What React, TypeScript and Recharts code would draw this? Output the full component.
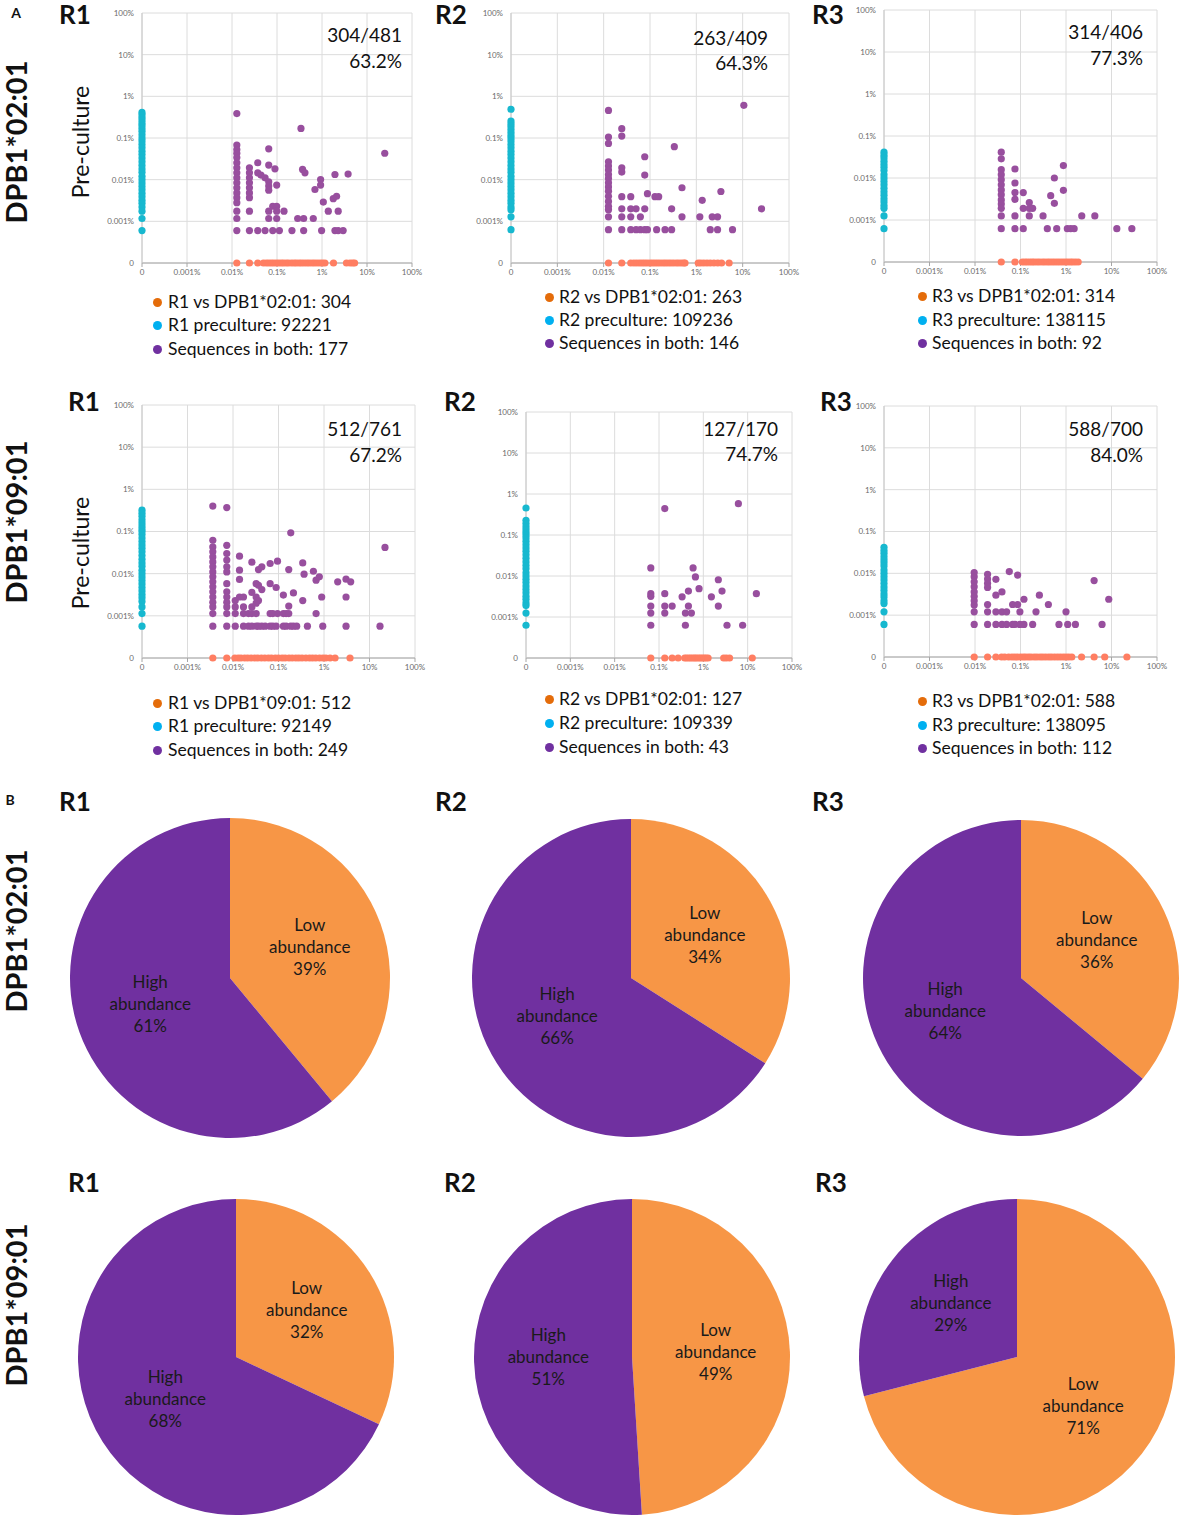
import React from "react";
import { ScatterChart, Scatter, XAxis, YAxis, CartesianGrid, PieChart, Pie, Cell } from "recharts";

const FONT = "Lato, 'Open Sans', sans-serif";

// shared tick labels for both log axes of the scatter plots (0 sits at the origin)
const TICK_LABELS = ["0", "0.001%", "0.01%", "0.1%", "1%", "10%", "100%"];
const TICKS = [0, 1, 2, 3, 4, 5, 6];

// ---- Panel A, DPB1*02:01 (values in %) ----
// cyan = only in pre-culture (x = 0), orange = only after culture (y = 0),
// purple = in both: [culture %, [pre-culture % ...]]
const R1_0201_CYAN = [0.41, 0.36, 0.31, 0.27, 0.23, 0.2, 0.17, 0.145, 0.12, 0.1, 0.085, 0.07, 0.058, 0.048, 0.04, 0.033, 0.027, 0.022, 0.018, 0.015, 0.012, 0.01, 0.0083, 0.0069, 0.0057, 0.0047, 0.0039, 0.0032, 0.0027, 0.0022, 0.00175, 0.00117, 0.0006];
const R1_0201_ORANGE = [0.0128, 0.0244, 0.0373, 0.05, 0.058, 0.066, 0.075, 0.085, 0.097, 0.11, 0.125, 0.14, 0.16, 0.18, 0.21, 0.24, 0.27, 0.31, 0.35, 0.4, 0.46, 0.52, 0.6, 0.68, 0.78, 0.9, 1.02, 1.16, 1.8, 3.5, 4.2, 4.8, 5.3];
const R1_0201_BOTH: [number, number[]][] = [
  [0.0128, [0.385, 0.068, 0.053, 0.043, 0.034, 0.0255, 0.0193, 0.0146, 0.0111, 0.0084, 0.0064, 0.0048, 0.0037, 0.0028, 0.00175, 0.00117, 0.0006]],
  [0.0244, [0.0193, 0.0146, 0.0111, 0.0084, 0.0064, 0.0048, 0.0037, 0.00175, 0.0006]],
  [0.0373, [0.0255, 0.0146, 0.0006]],
  [0.044, [0.0129]],
  [0.0543, [0.0111, 0.0006]],
  [0.0655, [0.055, 0.0224, 0.0089, 0.007, 0.0056, 0.00175, 0.00117]],
  [0.0804, [0.0023, 0.0006]],
  [0.09, [0.0182]],
  [0.0985, [0.0074, 0.0023, 0.00175, 0.00117]],
  [0.113, [0.0006]],
  [0.143, [0.00175]],
  [0.215, [0.0006]],
  [0.288, [0.00117]],
  [0.341, [0.17]],
  [0.37, [0.0176]],
  [0.391, [0.00117, 0.0006]],
  [0.418, [0.0146]],
  [0.64, [0.00117]],
  [0.697, [0.0058]],
  [0.931, [0.0101, 0.0074]],
  [0.98, [0.0006]],
  [1.07, [0.0029]],
  [1.38, [0.00175]],
  [1.78, [0.0035]],
  [1.94, [0.0133, 0.0006]],
  [2.11, [0.004]],
  [2.29, [0.00175, 0.0006]],
  [2.95, [0.0006]],
  [3.8, [0.0136]],
  [24.8, [0.043]],
];

const R2_0201_CYAN = [0.49, 0.256, 0.22, 0.19, 0.16, 0.135, 0.115, 0.1, 0.085, 0.07, 0.058, 0.048, 0.04, 0.033, 0.027, 0.022, 0.018, 0.015, 0.012, 0.01, 0.0083, 0.0069, 0.0057, 0.0047, 0.0039, 0.0032, 0.0027, 0.0022, 0.0019, 0.00128, 0.00063];
const R2_0201_ORANGE = [0.0127, 0.0246, 0.0384, 0.045, 0.052, 0.06, 0.068, 0.077, 0.087, 0.1, 0.113, 0.128, 0.145, 0.165, 0.19, 0.215, 0.245, 0.28, 0.32, 0.37, 0.42, 0.48, 0.54, 0.57, 1.1, 1.25, 1.45, 1.7, 2.0, 2.4, 2.9, 3.5, 5.1];
const R2_0201_BOTH: [number, number[]][] = [
  [0.0127, [0.46, 0.105, 0.074, 0.0269, 0.0212, 0.017, 0.0133, 0.0107, 0.0084, 0.0067, 0.0053, 0.004, 0.003, 0.0023, 0.0019, 0.00128, 0.00063]],
  [0.0246, [0.167, 0.111, 0.0193, 0.0152, 0.0039, 0.002, 0.00128, 0.00063]],
  [0.0384, [0.0039, 0.002, 0.00128, 0.00063]],
  [0.05, [0.002, 0.00063]],
  [0.062, [0.00128, 0.00063]],
  [0.077, [0.0355, 0.0129, 0.002, 0.00063]],
  [0.088, [0.0046, 0.00063]],
  [0.128, [0.0039]],
  [0.139, [0.00063]],
  [0.154, [0.0039]],
  [0.211, [0.00063]],
  [0.293, [0.002, 0.00063]],
  [0.335, [0.062]],
  [0.49, [0.0064, 0.00128]],
  [1.19, [0.00128]],
  [1.34, [0.0032]],
  [2.0, [0.00063]],
  [2.2, [0.00128]],
  [2.87, [0.00128, 0.00063]],
  [3.39, [0.0052]],
  [6.04, [0.00063]],
  [10.6, [0.61]],
  [25.5, [0.002]],
];

const R3_0201_CYAN = [0.0413, 0.035, 0.03, 0.025, 0.021, 0.018, 0.015, 0.012, 0.01, 0.0083, 0.0069, 0.0057, 0.0047, 0.0039, 0.0032, 0.0027, 0.0022, 0.0019, 0.00125, 0.00062];
const R3_0201_ORANGE = [0.0378, 0.0755, 0.11, 0.125, 0.14, 0.16, 0.18, 0.2, 0.23, 0.26, 0.3, 0.34, 0.39, 0.44, 0.5, 0.57, 0.65, 0.74, 0.85, 0.97, 1.1, 1.25, 1.4, 1.6, 1.85];
const R3_0201_BOTH: [number, number[]][] = [
  [0.0378, [0.0413, 0.0286, 0.0158, 0.012, 0.0091, 0.0069, 0.0052, 0.004, 0.003, 0.0024, 0.0019, 0.00125, 0.00062]],
  [0.0755, [0.0164, 0.0076, 0.0045, 0.0031, 0.00125, 0.00062]],
  [0.115, [0.0045, 0.0019, 0.00062]],
  [0.156, [0.0026, 0.0019, 0.00125]],
  [0.185, [0.0019]],
  [0.313, [0.00125]],
  [0.389, [0.00062]],
  [0.461, [0.0038]],
  [0.555, [0.01, 0.0025]],
  [0.625, [0.00062]],
  [0.877, [0.0198, 0.0051]],
  [1.07, [0.00062]],
  [1.27, [0.00062]],
  [1.51, [0.00062]],
  [2.22, [0.00125]],
  [4.3, [0.00125]],
  [13.1, [0.00062]],
  [28, [0.00062]],
];

// ---- Panel A, DPB1*09:01 ----
const R1_0901_CYAN = [0.32, 0.27, 0.23, 0.19, 0.16, 0.135, 0.115, 0.1, 0.085, 0.07, 0.058, 0.048, 0.04, 0.033, 0.027, 0.022, 0.018, 0.015, 0.012, 0.01, 0.0083, 0.0069, 0.0057, 0.0047, 0.0039, 0.0032, 0.0027, 0.0022, 0.00163, 0.00113, 0.00057];
const R1_0901_ORANGE = [0.0036, 0.0073, 0.011, 0.013, 0.015, 0.018, 0.021, 0.025, 0.03, 0.035, 0.042, 0.05, 0.06, 0.07, 0.085, 0.1, 0.12, 0.14, 0.17, 0.2, 0.24, 0.28, 0.33, 0.4, 0.48, 0.56, 0.66, 0.8, 0.95, 1.1, 1.36, 1.75, 3.73];
const R1_0901_BOTH: [number, number[]][] = [
  [0.0036, [0.4, 0.062, 0.043, 0.033, 0.025, 0.019, 0.0145, 0.011, 0.0084, 0.0064, 0.0049, 0.0037, 0.0028, 0.0021, 0.00163, 0.00113, 0.00057]],
  [0.0073, [0.37, 0.047, 0.03, 0.021, 0.0145, 0.011, 0.0058, 0.0037, 0.0028, 0.0021, 0.00163, 0.00113, 0.00057]],
  [0.0112, [0.0023, 0.00163, 0.00113, 0.00057]],
  [0.0139, [0.026, 0.0121, 0.0073, 0.0028]],
  [0.017, [0.0028, 0.00163, 0.00113, 0.00057]],
  [0.0219, [0.00113, 0.00057]],
  [0.026, [0.0187, 0.0036, 0.00163, 0.00113, 0.00057]],
  [0.0323, [0.0058, 0.0028, 0.002, 0.00113, 0.00057]],
  [0.0363, [0.0125, 0.0053, 0.0023, 0.00057]],
  [0.043, [0.0145, 0.0042, 0.00057]],
  [0.051, [0.00057]],
  [0.0655, [0.0174, 0.0058, 0.00113, 0.00057]],
  [0.075, [0.00113, 0.00057]],
  [0.0888, [0.0047, 0.00057]],
  [0.095, [0.0198, 0.00113]],
  [0.128, [0.0031, 0.00113, 0.00057]],
  [0.147, [0.00113, 0.00057]],
  [0.168, [0.0125, 0.0017, 0.00113]],
  [0.186, [0.093, 0.00057]],
  [0.213, [0.0035, 0.00057]],
  [0.251, [0.00057]],
  [0.341, [0.018, 0.0023]],
  [0.365, [0.0097]],
  [0.432, [0.00057]],
  [0.585, [0.0114]],
  [0.67, [0.007, 0.00113]],
  [0.79, [0.0084]],
  [0.89, [0.0028]],
  [0.94, [0.00057]],
  [2.0, [0.0064]],
  [3.05, [0.0074, 0.0028, 0.00057]],
  [3.86, [0.0064]],
  [17, [0.00057]],
  [21.9, [0.042]],
];

const R2_0901_CYAN = [0.456, 0.228, 0.19, 0.16, 0.135, 0.115, 0.1, 0.085, 0.07, 0.058, 0.048, 0.04, 0.033, 0.027, 0.022, 0.018, 0.015, 0.012, 0.01, 0.0083, 0.0069, 0.0057, 0.0047, 0.0039, 0.0032, 0.0027, 0.0022, 0.0019, 0.00125, 0.00063];
const R2_0901_ORANGE = [0.0653, 0.135, 0.198, 0.27, 0.38, 0.42, 0.47, 0.52, 0.58, 0.64, 0.7, 0.78, 0.86, 0.95, 1.05, 1.15, 1.28, 2.88, 3.3, 3.9, 12.7];
const R2_0901_BOTH: [number, number[]][] = [
  [0.0653, [0.0157, 0.0037, 0.0032, 0.00185, 0.00125, 0.00063]],
  [0.135, [0.44, 0.0037, 0.00185, 0.00125]],
  [0.198, [0.00185]],
  [0.332, [0.0031]],
  [0.394, [0.00125, 0.00063]],
  [0.461, [0.0043, 0.00185]],
  [0.538, [0.00125]],
  [0.587, [0.0157]],
  [0.663, [0.0095]],
  [0.8, [0.0049]],
  [1.52, [0.0031]],
  [2.18, [0.0081, 0.00185]],
  [2.64, [0.0043]],
  [3.42, [0.00063]],
  [6.17, [0.58]],
  [7.7, [0.00063]],
  [15.7, [0.0037]],
];

const R3_0901_CYAN = [0.042, 0.035, 0.03, 0.025, 0.021, 0.018, 0.015, 0.012, 0.01, 0.0083, 0.0069, 0.0057, 0.0047, 0.0039, 0.0032, 0.0027, 0.0022, 0.0019, 0.0012, 0.0006];
const R3_0901_ORANGE = [0.0096, 0.0189, 0.0288, 0.0384, 0.045, 0.055, 0.065, 0.075, 0.085, 0.1, 0.115, 0.13, 0.15, 0.17, 0.2, 0.23, 0.27, 0.31, 0.36, 0.42, 0.48, 0.56, 0.65, 0.75, 0.87, 1.0, 1.15, 1.34, 2.2, 4.15, 7.1, 21.8];
const R3_0901_BOTH: [number, number[]][] = [
  [0.0096, [0.0104, 0.0083, 0.0063, 0.0048, 0.0036, 0.0028, 0.0022, 0.00174, 0.0012, 0.0006]],
  [0.0189, [0.0095, 0.0073, 0.0058, 0.0046, 0.0018, 0.0012, 0.0006]],
  [0.0288, [0.0072, 0.003, 0.0012, 0.0006]],
  [0.0391, [0.0036, 0.0012, 0.0006]],
  [0.0495, [0.0012, 0.0006]],
  [0.0567, [0.011]],
  [0.0671, [0.0018, 0.0006]],
  [0.0755, [0.0006]],
  [0.0865, [0.0091, 0.0018]],
  [0.097, [0.0012, 0.0006]],
  [0.119, [0.0024, 0.0006]],
  [0.185, [0.0006]],
  [0.219, [0.0012]],
  [0.26, [0.003]],
  [0.41, [0.0018]],
  [0.7, [0.0006]],
  [1.0, [0.0012]],
  [1.09, [0.0006]],
  [1.61, [0.0006]],
  [4.15, [0.0067]],
  [6.2, [0.0006]],
  [8.7, [0.0024]],
];

const LEGENDS = [
  ["R1 vs DPB1*02:01: 304", "R1 preculture: 92221", "Sequences in both: 177"],
  ["R2 vs DPB1*02:01: 263", "R2 preculture: 109236", "Sequences in both: 146"],
  ["R3 vs DPB1*02:01: 314", "R3 preculture: 138115", "Sequences in both: 92"],
  ["R1 vs DPB1*09:01: 512", "R1 preculture: 92149", "Sequences in both: 249"],
  ["R2 vs DPB1*02:01: 127", "R2 preculture: 109339", "Sequences in both: 43"],
  ["R3 vs DPB1*02:01: 588", "R3 preculture: 138095", "Sequences in both: 112"],
];
const RATIOS = ["304/481", "263/409", "314/406", "512/761", "127/170", "588/700"];
const RATIO_PCT = ["63.2%", "64.3%", "77.3%", "67.2%", "74.7%", "84.0%"];

// ---- Panel B: share of culture clones (%) ----
const PIE_LOW = [39, 34, 36, 32, 49, 71];
const PIE_HIGH = [61, 66, 64, 68, 51, 29];

// colours
const C_ORANGE = "#FF7E62";
const C_CYAN = "#17B8CF";
const C_PURPLE = "#984F9E";
const LEGEND_COLORS = ["#E46C0A", "#00B0F0", "#7030A0"];
const PIE_ORANGE = "#F79646";
const PIE_PURPLE = "#7030A0";

// layout
const SCATTER_BOXES = [
  { left: 142, top: 13, right: 412, bottom: 263 },
  { left: 511, top: 13, right: 789, bottom: 263 },
  { left: 884, top: 10, right: 1157, bottom: 262 },
  { left: 142, top: 405, right: 415, bottom: 658 },
  { left: 526, top: 412, right: 792, bottom: 658 },
  { left: 884, top: 406, right: 1157, bottom: 657 },
];
const LEGEND_POS = [
  { dotX: 157, textX: 168, ys: [302, 325, 349] },
  { dotX: 549, textX: 559, ys: [297, 320, 343] },
  { dotX: 922, textX: 932, ys: [296, 320, 343] },
  { dotX: 157, textX: 168, ys: [703, 726, 750] },
  { dotX: 549, textX: 559, ys: [699, 723, 747] },
  { dotX: 922, textX: 932, ys: [701, 725, 748] },
];
const RATIO_POS = [
  { right: 402, ys: [35, 61] },
  { right: 768, ys: [38, 63] },
  { right: 1143, ys: [32, 58] },
  { right: 402, ys: [429, 455] },
  { right: 778, ys: [429, 454] },
  { right: 1143, ys: [429, 455] },
];
const PIE_POS = [
  { cx: 230, cy: 978, r: 160 },
  { cx: 631, cy: 978, r: 159 },
  { cx: 1021, cy: 978, r: 158 },
  { cx: 236, cy: 1357, r: 158 },
  { cx: 632, cy: 1357, r: 158 },
  { cx: 1017, cy: 1357, r: 158 },
];

const toAxis = (pct: number) => (pct <= 0 ? 0 : Math.log10(pct) + 4);
const fmtTick = (v: number) => TICK_LABELS[Math.round(v)] ?? "";

const dot = (color: string) => (p: any) =>
  p.cx == null ? <g /> : <circle cx={p.cx} cy={p.cy} r={3.6} fill={color} />;

const Txt = ({ x, y, size, bold, rotate, children, align }: any) => (
  <div
    style={{
      position: "absolute",
      left: x,
      top: y,
      transform:
        align === "left"
          ? "translate(0,-50%)"
          : align === "right"
          ? "translate(-100%,-50%)"
          : `translate(-50%,-50%)${rotate ? " rotate(-90deg)" : ""}`,
      fontSize: size,
      fontWeight: bold ? 700 : 400,
      whiteSpace: "nowrap",
      lineHeight: rotate ? 1 : 0.8,
      color: "#111",
    }}
  >
    {children}
  </div>
);

function ScatterPanel({ idx, cyan, orange, both }: any) {
  const box = SCATTER_BOXES[idx];
  const w = box.right - box.left + 66;
  const h = box.bottom - box.top + 28;
  const cyanPts = cyan.map((v: number) => ({ x: 0, y: toAxis(v) }));
  const orangePts = orange.map((v: number) => ({ x: toAxis(v), y: 0 }));
  const bothPts = both.flatMap(([x, ys]: [number, number[]]) => ys.map((y) => ({ x: toAxis(x), y: toAxis(y) })));
  const tick = { fontSize: 8, fill: "#6b6b6b", fontFamily: FONT };
  return (
    <div style={{ position: "absolute", left: box.left - 50, top: box.top - 6 }}>
      <ScatterChart width={w} height={h} margin={{ top: 6, right: 16, bottom: 0, left: 0 }}>
        <CartesianGrid stroke="#DCDCDC" />
        <XAxis
          type="number"
          dataKey="x"
          domain={[0, 6]}
          ticks={TICKS}
          interval={0}
          tickFormatter={fmtTick}
          height={22}
          tick={tick}
          stroke="#A6A6A6"
          tickSize={4}
          tickMargin={2}
        />
        <YAxis
          type="number"
          dataKey="y"
          domain={[0, 6]}
          ticks={TICKS}
          interval={0}
          tickFormatter={fmtTick}
          width={50}
          tick={tick}
          stroke="#C8C8C8"
          tickLine={false}
          tickSize={4}
          tickMargin={4}
        />
        <Scatter data={orangePts} shape={dot(C_ORANGE)} isAnimationActive={false} />
        <Scatter data={cyanPts} shape={dot(C_CYAN)} isAnimationActive={false} />
        <Scatter data={bothPts} shape={dot(C_PURPLE)} isAnimationActive={false} />
      </ScatterChart>
    </div>
  );
}

const RAD = Math.PI / 180;
const pieLabel = (props: any) => {
  const { cx, cy, midAngle, outerRadius, index, value } = props;
  const d = outerRadius * 0.53;
  const x = cx + d * Math.cos(-midAngle * RAD);
  const y = cy + d * Math.sin(-midAngle * RAD) - 3;
  const lines = [index === 0 ? "Low" : "High", "abundance", `${value}%`];
  return (
    <text textAnchor="middle" fontSize={17} fontFamily={FONT} fill="#1a1a1a">
      {lines.map((t, i) => (
        <tspan key={i} x={x} y={y + (i - 1) * 22} dominantBaseline="central">
          {t}
        </tspan>
      ))}
    </text>
  );
};

function PiePanel({ idx }: { idx: number }) {
  const { cx, cy, r } = PIE_POS[idx];
  const data = [
    { name: "Low abundance", value: PIE_LOW[idx] },
    { name: "High abundance", value: PIE_HIGH[idx] },
  ];
  const size = 2 * r + 10;
  return (
    <div style={{ position: "absolute", left: cx - r - 5, top: cy - r - 5 }}>
      <PieChart width={size} height={size} margin={{ top: 0, right: 0, bottom: 0, left: 0 }}>
        <Pie
          data={data}
          dataKey="value"
          cx={r + 5}
          cy={r + 5}
          outerRadius={r}
          startAngle={90}
          endAngle={-270}
          stroke="none"
          labelLine={false}
          label={pieLabel}
          isAnimationActive={false}
        >
          <Cell fill={PIE_ORANGE} />
          <Cell fill={PIE_PURPLE} />
        </Pie>
      </PieChart>
    </div>
  );
}

const SCATTERS = [
  [R1_0201_CYAN, R1_0201_ORANGE, R1_0201_BOTH],
  [R2_0201_CYAN, R2_0201_ORANGE, R2_0201_BOTH],
  [R3_0201_CYAN, R3_0201_ORANGE, R3_0201_BOTH],
  [R1_0901_CYAN, R1_0901_ORANGE, R1_0901_BOTH],
  [R2_0901_CYAN, R2_0901_ORANGE, R2_0901_BOTH],
  [R3_0901_CYAN, R3_0901_ORANGE, R3_0901_BOTH],
];

const TITLES = [
  { t: "R1", x: 75, y: 14 }, { t: "R2", x: 451, y: 14 }, { t: "R3", x: 828, y: 14 },
  { t: "R1", x: 84, y: 401 }, { t: "R2", x: 460, y: 401 }, { t: "R3", x: 836, y: 401 },
  { t: "R1", x: 75, y: 801 }, { t: "R2", x: 451, y: 801 }, { t: "R3", x: 828, y: 801 },
  { t: "R1", x: 84, y: 1182 }, { t: "R2", x: 460, y: 1182 }, { t: "R3", x: 831, y: 1182 },
];

export default function App() {
  return (
    <div
      style={{
        position: "absolute",
        left: 0,
        top: 0,
        width: 1180,
        height: 1516,
        background: "#fff",
        fontFamily: FONT,
        overflow: "hidden",
      }}
    >
      {SCATTERS.map(([c, o, b], i) => (
        <ScatterPanel key={i} idx={i} cyan={c} orange={o} both={b} />
      ))}
      {PIE_POS.map((_, i) => (
        <PiePanel key={i} idx={i} />
      ))}

      <Txt x={16} y={13} size={14} bold>A</Txt>
      <Txt x={10} y={800} size={14} bold>B</Txt>
      {TITLES.map((t, i) => (
        <Txt key={i} x={t.x} y={t.y} size={26} bold>{t.t}</Txt>
      ))}
      <Txt x={15} y={142} size={29} bold rotate>DPB1*02:01</Txt>
      <Txt x={15} y={522} size={29} bold rotate>DPB1*09:01</Txt>
      <Txt x={15} y={931} size={29} bold rotate>DPB1*02:01</Txt>
      <Txt x={15} y={1305} size={29} bold rotate>DPB1*09:01</Txt>
      <Txt x={80} y={142} size={23} rotate>Pre-culture</Txt>
      <Txt x={80} y={553} size={23} rotate>Pre-culture</Txt>

      {RATIO_POS.map((p, i) => (
        <React.Fragment key={i}>
          <Txt x={p.right} y={p.ys[0]} size={19} align="right">{RATIOS[i]}</Txt>
          <Txt x={p.right} y={p.ys[1]} size={19} align="right">{RATIO_PCT[i]}</Txt>
        </React.Fragment>
      ))}

      {LEGEND_POS.map((p, i) =>
        LEGENDS[i].map((label, j) => (
          <React.Fragment key={`${i}-${j}`}>
            <div
              style={{
                position: "absolute",
                left: p.dotX - 4.5,
                top: p.ys[j] - 4.5,
                width: 9,
                height: 9,
                borderRadius: "50%",
                background: LEGEND_COLORS[j],
              }}
            />
            <Txt x={p.textX} y={p.ys[j]} size={17.5} align="left">{label}</Txt>
          </React.Fragment>
        ))
      )}
    </div>
  );
}
